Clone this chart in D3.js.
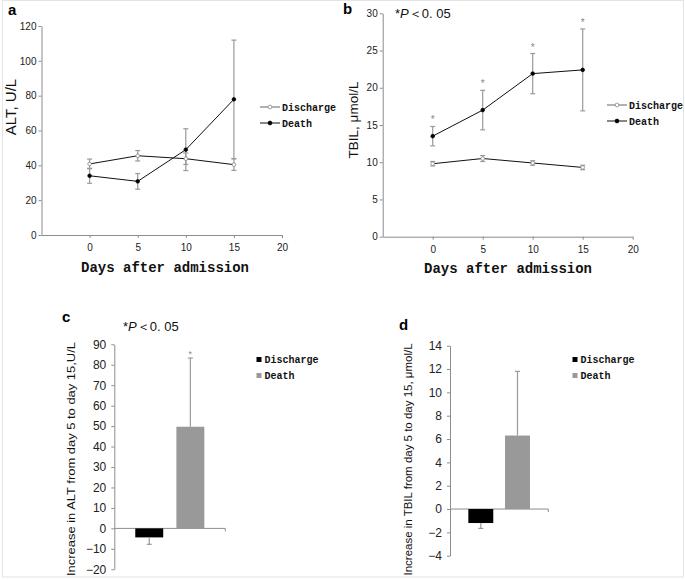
<!DOCTYPE html>
<html><head><meta charset="utf-8">
<script src="https://cdn.jsdelivr.net/npm/d3@7"></script>
<style>
body{margin:0;background:#fff;}
svg{display:block;}
.tick text{font-family:"Liberation Sans",Arial,sans-serif;fill:#222;}
</style></head>
<body>
<svg id="chart" width="685" height="580"></svg>
<script>
// ---- data ----
const days = [0, 5, 10, 15];
const xTicks = [0, 5, 10, 15, 20];
const seriesNames = ["Discharge", "Death"];

const altDischarge = [40.8, 45.5, 43.8, 40.4];
const altDischargeErr = [2.8, 3.0, 3.3, 3.3];
const altDeath = [34.0, 30.8, 49.0, 77.9];
const altDeathErr = [4.3, 4.5, 12.0, 34.0];
const altTicks = [0, 20, 40, 60, 80, 100, 120];

const tbilDischarge = [9.8, 10.5, 9.9, 9.3];
const tbilDischargeErr = [0.3, 0.4, 0.3, 0.3];
const tbilDeath = [13.5, 17.0, 21.9, 22.4];
const tbilDeathErr = [1.3, 2.65, 2.7, 5.5];
const tbilSig = [true, true, true, true];
const tbilTicks = [0, 5, 10, 15, 20, 25, 30];

const altChange = [-4.4, 49.7];
const altChangeErr = [3.4, 33.6];
const altChangeSig = [false, true];
const altChangeTicks = [-20, -10, 0, 10, 20, 30, 40, 50, 60, 70, 80, 90];

const tbilChange = [-1.2, 6.3];
const tbilChangeErr = [0.46, 5.5];
const tbilChangeTicks = [-4, -2, 0, 2, 4, 6, 8, 10, 12, 14];

const barColors = ["#000000", "#999999"];
const axisColor = "#8c8c8c";
const errColor = "#9a9a9a";
const monoFont = "'Liberation Mono','DejaVu Sans Mono',monospace";
const sansFont = "'Liberation Sans',Arial,sans-serif";

const svg = d3.select("#chart");
svg.append("rect").attr("x", 2.5).attr("y", 0.5).attr("width", 681).attr("height", 576.5)
  .attr("fill", "none").attr("stroke", "#e4e4e4");

function fmtMinus(d){ return d < 0 ? "\u2212" + Math.abs(d) : String(d); }

function styleAxis(g, fontSize){
  g.select(".domain").attr("stroke", axisColor);
  g.selectAll(".tick line").attr("stroke", axisColor);
  g.selectAll(".tick text").attr("font-size", fontSize);
}

// ---- line panels ----
function linePanel(o){
  const x = d3.scaleLinear().domain([-5, 20]).range(o.xr);
  const y = d3.scaleLinear().domain(o.yd).range(o.yr);
  const g = svg.append("g");
  const ya = g.append("g").attr("transform", `translate(${o.xr[0]},0)`)
    .call(d3.axisLeft(y).tickValues(o.yTicks).tickSize(3).tickPadding(2).tickSizeOuter(0));
  styleAxis(ya, 10);
  const xa = g.append("g").attr("transform", `translate(0,${o.yr[0]})`)
    .call(d3.axisBottom(x).tickValues(xTicks).tickSize(3).tickPadding(6).tickSizeOuter(0));
  styleAxis(xa, 10);

  const series = [
    {v: o.dis, e: o.disErr, fill: "#fff", stroke: "#888"},
    {v: o.dea, e: o.deaErr, fill: "#000", stroke: "#000"}
  ];
  const line = d3.line().x((d,i)=>x(days[i])).y(d=>y(d));
  series.forEach(s=>{
    const eg = g.append("g").attr("stroke", errColor).attr("stroke-width", 1.2);
    days.forEach((dd,i)=>{
      const cx = x(dd), top = y(s.v[i]+s.e[i]), bot = y(s.v[i]-s.e[i]);
      eg.append("line").attr("x1",cx).attr("x2",cx).attr("y1",top).attr("y2",bot);
      eg.append("line").attr("x1",cx-2.5).attr("x2",cx+2.5).attr("y1",top).attr("y2",top);
      eg.append("line").attr("x1",cx-2.5).attr("x2",cx+2.5).attr("y1",bot).attr("y2",bot);
    });
  });
  series.forEach(s=>{
    g.append("path").attr("d", line(s.v)).attr("fill","none").attr("stroke","#111").attr("stroke-width",1);
    g.selectAll(null).data(s.v).enter().append("circle")
      .attr("cx",(d,i)=>x(days[i])).attr("cy",d=>y(d)).attr("r",1.8)
      .attr("fill",s.fill).attr("stroke",s.stroke).attr("stroke-width",0.8);
  });
  if (o.sig){
    days.forEach((dd,i)=>{
      if(!o.sig[i]) return;
      g.append("text").attr("x", x(dd)).attr("y", y(o.dea[i]+o.deaErr[i]) - 3)
        .attr("text-anchor","middle").attr("font-family", sansFont).attr("font-size", 10)
        .attr("fill","#888").text("*");
    });
  }
  const lg = g.append("g").attr("transform", `translate(${o.leg[0]},${o.leg[1]})`);
  seriesNames.forEach((n,i)=>{
    const yy = i*16;
    lg.append("line").attr("x1",0).attr("x2",20).attr("y1",yy).attr("y2",yy).attr("stroke", i? "#111":"#666").attr("stroke-width",1);
    lg.append("circle").attr("cx",10).attr("cy",yy).attr("r",1.9)
      .attr("fill", series[i].fill).attr("stroke", series[i].stroke).attr("stroke-width",0.8);
    lg.append("text").attr("x",22).attr("y",yy).attr("dy","0.36em")
      .attr("font-family", monoFont).attr("font-weight","bold").attr("font-size", 10).attr("fill","#111").text(n);
  });
  g.append("text").attr("x", o.xTitle[0]).attr("y", o.xTitle[1]).attr("text-anchor","middle")
    .attr("font-family", monoFont).attr("font-weight","bold").attr("font-size", 14).attr("fill","#111")
    .text("Days after admission");
  g.append("text").attr("transform", `translate(${o.yTitle[0]},${o.yTitle[1]}) rotate(-90)`)
    .attr("text-anchor","middle").attr("dy","0.35em")
    .attr("font-family", o.yTitleFont).attr("font-size", o.yTitleSize).attr("fill","#111")
    .text(o.yTitleText);
  g.append("text").attr("x", o.lab[0]).attr("y", o.lab[1]).attr("font-family", sansFont)
    .attr("font-weight","bold").attr("font-size", 15).attr("fill","#000").text(o.label);
}

linePanel({xr:[41.5, 282], yd:[0,120], yr:[235, 26], yTicks: altTicks,
  dis: altDischarge, disErr: altDischargeErr, dea: altDeath, deaErr: altDeathErr,
  leg:[260, 107], xTitle:[165, 272], yTitle:[11, 107], yTitleText:"ALT, U/L",
  yTitleFont: sansFont, yTitleSize: 15, lab:[8, 15], label:"a"});

linePanel({xr:[382.7, 632.7], yd:[0,30], yr:[236.7, 13.3], yTicks: tbilTicks,
  dis: tbilDischarge, disErr: tbilDischargeErr, dea: tbilDeath, deaErr: tbilDeathErr, sig: tbilSig,
  leg:[607, 105], xTitle:[508, 273], yTitle:[353, 120], yTitleText:"TBIL, \u03bcmol/L",
  yTitleFont: sansFont, yTitleSize: 13.5, lab:[343, 14], label:"b"});

function pText(x, yy, size){
  const t = svg.append("text").attr("x", x).attr("y", yy).attr("font-family", sansFont)
    .attr("font-size", size).attr("fill","#111");
  t.append("tspan").text("*");
  t.append("tspan").attr("font-style","italic").text("P");
  t.append("tspan").text("\uff1c0. 05");
}
pText(395, 18, 13);
pText(123, 331, 13);

// ---- bar panels ----
function barPanel(o){
  const x = d3.scaleBand().domain(seriesNames).range(o.xr).paddingInner(0.32).paddingOuter(o.po);
  const y = d3.scaleLinear().domain(o.yd).range(o.yr);
  const g = svg.append("g");
  const ya = g.append("g").attr("transform", `translate(${o.xr[0]},0)`)
    .call(d3.axisLeft(y).tickValues(o.yTicks).tickSize(3).tickPadding(5).tickSizeOuter(0).tickFormat(fmtMinus));
  styleAxis(ya, 12);
  g.append("line").attr("x1", o.xr[0]).attr("x2", o.xr[1]).attr("y1", y(0)).attr("y2", y(0)).attr("stroke", axisColor);
  g.append("line").attr("x1", o.xr[1]).attr("x2", o.xr[1]).attr("y1", y(0)).attr("y2", y(0)+3).attr("stroke", axisColor);
  g.selectAll(null).data(o.vals).enter().append("rect")
    .attr("x",(d,i)=>x(seriesNames[i])).attr("width", x.bandwidth())
    .attr("y", d=>Math.min(y(d), y(0))).attr("height", d=>Math.abs(y(d)-y(0)))
    .attr("fill",(d,i)=>barColors[i]);
  o.vals.forEach((v,i)=>{
    const cx = x(seriesNames[i]) + x.bandwidth()/2;
    const end = v >= 0 ? v + o.err[i] : v - o.err[i];
    g.append("line").attr("x1",cx).attr("x2",cx).attr("y1",y(v)).attr("y2",y(end)).attr("stroke",errColor).attr("stroke-width",1.2);
    g.append("line").attr("x1",cx-2.5).attr("x2",cx+2.5).attr("y1",y(end)).attr("y2",y(end)).attr("stroke",errColor).attr("stroke-width",1.2);
    if (o.sig && o.sig[i]){
      g.append("text").attr("x",cx).attr("y",y(end)-1).attr("text-anchor","middle")
        .attr("font-family", sansFont).attr("font-size",9).attr("fill","#888").text("*");
    }
  });
  const lg = g.append("g").attr("transform", `translate(${o.leg[0]},${o.leg[1]})`);
  seriesNames.forEach((n,i)=>{
    const yy = i*16;
    lg.append("rect").attr("x",0).attr("y",yy-2.5).attr("width",5).attr("height",5).attr("fill",barColors[i]);
    lg.append("text").attr("x",8).attr("y",yy).attr("dy","0.36em")
      .attr("font-family", monoFont).attr("font-weight","bold").attr("font-size", 10).attr("fill","#111").text(n);
  });
  g.append("text").attr("transform", `translate(${o.yTitle[0]},${o.yTitle[1]}) rotate(-90)`)
    .attr("text-anchor","middle").attr("dy","0.35em")
    .attr("font-family", sansFont).attr("font-size", 11).attr("fill","#111")
    .attr("textLength", o.titleLen).attr("lengthAdjust","spacingAndGlyphs")
    .text(o.yTitleText);
  g.append("text").attr("x", o.lab[0]).attr("y", o.lab[1]).attr("font-family", sansFont)
    .attr("font-weight","bold").attr("font-size", 15).attr("fill","#000").text(o.label);
}

barPanel({xr:[114.3, 225.3], po:0.51, yd:[-20, 90], yr:[569.3, 344.3], yTicks: altChangeTicks,
  vals: altChange, err: altChangeErr, sig: altChangeSig, leg:[256.5, 359.5],
  yTitle:[71.5, 459], titleLen: 234, yTitleText:"Increase in ALT from day 5 to day 15,U/L", lab:[62, 322], label:"c"});

barPanel({xr:[450, 548.3], po:0.5, yd:[-4, 14], yr:[555.7, 345.7], yTicks: tbilChangeTicks,
  vals: tbilChange, err: tbilChangeErr, leg:[572.5, 359.5],
  yTitle:[408, 459.5], titleLen: 232, yTitleText:"Increase in TBIL from day 5 to day 15, \u03bcmol/L", lab:[399, 330], label:"d"});
</script>
</body></html>
